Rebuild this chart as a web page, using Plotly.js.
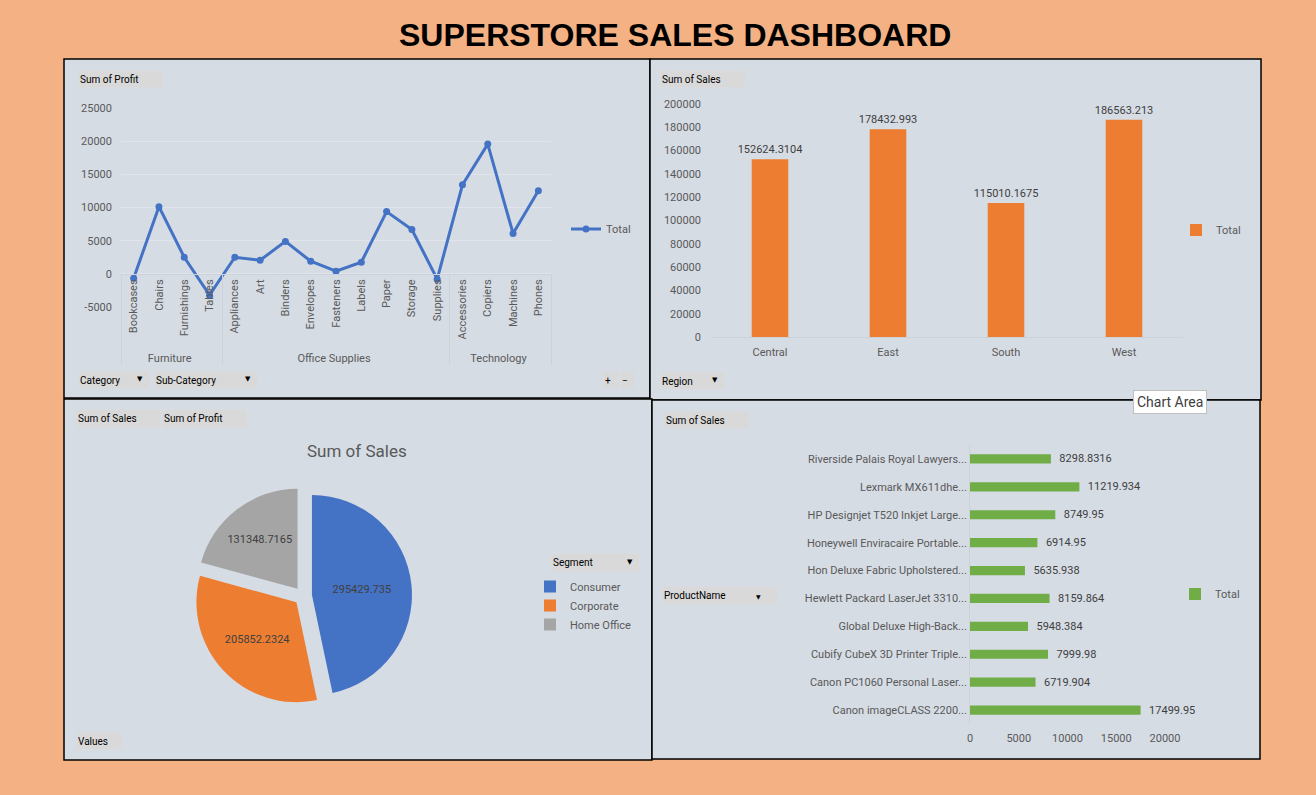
<!DOCTYPE html>
<html>
<head>
<meta charset="utf-8">
<script src="https://cdn.plot.ly/plotly-3.0.1.min.js"></script>
<style>
  body { margin: 0; background: #F4B183; }
  #dash { width: 1316px; height: 795px; }
</style>
</head>
<body>
<div id="dash"></div>
<script>
// profit by sub-category (line chart)
var categoryGroups = ['Furniture', 'Furniture', 'Furniture', 'Furniture',
  'Office Supplies', 'Office Supplies', 'Office Supplies', 'Office Supplies', 'Office Supplies',
  'Office Supplies', 'Office Supplies', 'Office Supplies', 'Office Supplies',
  'Technology', 'Technology', 'Technology', 'Technology'];
var subCategories = ['Bookcases', 'Chairs', 'Furnishings', 'Tables', 'Appliances', 'Art', 'Binders',
  'Envelopes', 'Fasteners', 'Labels', 'Paper', 'Storage', 'Supplies', 'Accessories', 'Copiers',
  'Machines', 'Phones'];
var profitBySub = [-650, 10130, 2500, -3190, 2500, 2050, 4890, 1900, 400, 1750, 9380, 6690, -800,
  13420, 19560, 6090, 12530];
var profitTicks = [-5000, 0, 5000, 10000, 15000, 20000, 25000];

// sales by region
var regions = ['Central', 'East', 'South', 'West'];
var regionSales = [152624.3104, 178432.993, 115010.1675, 186563.213];

// sales by segment
var segments = ['Consumer', 'Corporate', 'Home Office'];
var segmentSales = [295429.735, 205852.2324, 131348.7165];

// top products by sales
var products = ['Riverside Palais Royal Lawyers...', 'Lexmark MX611dhe...', 'HP Designjet T520 Inkjet Large...',
  'Honeywell Enviracaire Portable...', 'Hon Deluxe Fabric Upholstered...', 'Hewlett Packard LaserJet 3310...',
  'Global Deluxe High-Back...', 'Cubify CubeX 3D Printer Triple...', 'Canon PC1060 Personal Laser...',
  'Canon imageCLASS 2200...'];
var productSales = [8298.8316, 11219.934, 8749.95, 6914.95, 5635.938, 8159.864, 5948.384, 7999.98,
  6719.904, 17499.95];

var W = 1316, H = 795;
function px(x) { return x / W; }
function py(y) { return 1 - y / H; }

var FONT = 'Roboto, "Open Sans", sans-serif';
var tickFont = {family: FONT, size: 11, color: '#595959'};
var labelFont = {family: FONT, size: 11, color: '#404040'};
var panelBg = '#D6DCE4';
var faint = '#CDD2D9';

var lineTrace = {
  x: [categoryGroups, subCategories],
  y: profitBySub,
  type: 'scatter',
  mode: 'lines+markers',
  name: 'Total',
  line: {color: '#4472C4', width: 3},
  marker: {color: '#4472C4', size: 7},
  xaxis: 'x', yaxis: 'y',
  legend: 'legend',
  hoverinfo: 'none'
};

var regionTrace = {
  x: regions,
  y: regionSales,
  type: 'bar',
  name: 'Total',
  width: 0.31,
  marker: {color: '#ED7D31'},
  text: regionSales.map(String),
  textposition: 'outside',
  constraintext: 'none',
  textfont: labelFont,
  cliponaxis: false,
  xaxis: 'x2', yaxis: 'y2',
  legend: 'legend2',
  hoverinfo: 'none'
};

// pie geometry: centre (303,596), radius ~100, pull 0.09
var pull = 0.09;
var half = 100 * (1 + pull);
var segmentTrace = {
  type: 'pie',
  labels: segments,
  values: segmentSales,
  text: segmentSales.map(String),
  textinfo: 'text',
  textposition: 'inside',
  insidetextorientation: 'horizontal',
  textfont: labelFont,
  sort: false,
  direction: 'clockwise',
  rotation: 0,
  pull: pull,
  marker: {colors: ['#4472C4', '#ED7D31', '#A5A5A5']},
  domain: {x: [px(303 - half), px(303 + half)], y: [py(596 + half), py(596 - half)]},
  legend: 'legend3',
  hoverinfo: 'none'
};

var productTrace = {
  x: productSales,
  y: products,
  type: 'bar',
  orientation: 'h',
  name: 'Total',
  width: 0.33,
  marker: {color: '#70AD47'},
  text: productSales.map(function (v) { return '\u00a0\u00a0' + v; }),
  textposition: 'outside',
  constraintext: 'none',
  textfont: labelFont,
  cliponaxis: false,
  xaxis: 'x3', yaxis: 'y3',
  legend: 'legend4',
  hoverinfo: 'none'
};

// panels
var panels = [[64, 59, 650, 398], [650, 59, 1261, 400], [64, 399, 652, 760], [652, 400, 1260, 759]];
var shapes = panels.map(function (p) {
  return {type: 'rect', xref: 'paper', yref: 'paper', layer: 'below',
    x0: px(p[0]), x1: px(p[2]), y0: py(p[3]), y1: py(p[1]),
    fillcolor: panelBg, line: {color: '#000000', width: 1.5}};
});

function pathPx(pts) {
  return pts.map(function (p, i) {
    return (i ? 'L' : 'M') + px(p[0]).toFixed(5) + ',' + py(p[1]).toFixed(5);
  }).join(' ') + ' Z';
}
// filter funnel on the ProductName button
shapes.push({type: 'path', xref: 'paper', yref: 'paper',
  path: pathPx([[764, 588], [777, 588], [772, 594], [772, 601], [769, 601], [769, 594]]),
  fillcolor: '#595959', line: {width: 0}});

var annotations = [];
function note(x, y, text, font, extra) {
  var a = {xref: 'paper', yref: 'paper', x: px(x), y: py(y), xanchor: 'center', yanchor: 'middle',
    text: text, showarrow: false, font: font};
  for (var k in extra || {}) a[k] = extra[k];
  annotations.push(a);
}
function button(label, x0, y0, w, h, arrow) {
  note(x0, y0, label, {family: FONT, size: 10, color: '#000000'},
    {xanchor: 'left', yanchor: 'top', align: 'left', width: w - 4, height: h - 2, borderpad: 1,
      bgcolor: '#D9D9D9'});
  if (arrow) note(x0 + w - 10, y0 + h / 2, '▼', {family: 'DejaVu Sans', size: 7, color: '#000000'});
}

button('Sum of Profit', 78, 70, 85, 16);
button('Category', 78, 371, 72, 16, true);
button('Sub-Category', 154, 371, 104, 16, true);
button('+', 603, 371, 15, 16);
button('−', 620, 371, 15, 16);
button('Sum of Sales', 660, 70, 86, 16);
button('Region', 660, 372, 65, 16, true);
button('Sum of Sales', 76, 409, 85, 17);
button('Sum of Profit', 162, 409, 85, 17);
button('Values', 76, 732, 47, 16);
button('Segment', 551, 553, 89, 17, true);
button('Sum of Sales', 664, 411, 85, 16);
button('ProductName', 662, 586, 116, 17);
note(758, 596, '▼', {family: 'DejaVu Sans', size: 6, color: '#000000'});

note(675, 35, '<b>SUPERSTORE SALES DASHBOARD</b>',
  {family: '"Liberation Sans", Arial, sans-serif', size: 32, color: '#000000'});
note(357, 451, 'Sum of Sales', {family: FONT, size: 17, color: '#595959'});
note(1170, 402, 'Chart Area', {family: FONT, size: 14, color: '#404040'},
  {bgcolor: '#FFFFFF', bordercolor: '#BFBFBF', borderwidth: 1, borderpad: 3});

function legendAt(x, y, anchor) {
  return {x: px(x), y: py(y), xanchor: 'left', yanchor: anchor || 'middle', bgcolor: 'rgba(0,0,0,0)',
    borderwidth: 0, font: {family: FONT, size: 11, color: '#595959'}, itemwidth: 30, itemclick: false};
}

var layout = {
  width: W, height: H,
  autosize: false,
  margin: {l: 0, r: 0, t: 0, b: 0},
  paper_bgcolor: '#F4B183',
  plot_bgcolor: 'rgba(0,0,0,0)',
  font: tickFont,
  showlegend: true,
  hovermode: false,
  xaxis: {
    type: 'multicategory', domain: [px(121), px(551)], anchor: 'free', position: py(274),
    range: [-0.5, subCategories.length - 0.5],
    tickangle: -90, tickfont: tickFont, showline: true, linecolor: faint, ticks: '',
    showdividers: true, dividercolor: faint, dividerwidth: 1, showgrid: false, fixedrange: true
  },
  yaxis: {
    domain: [py(307), py(108)], anchor: 'x', range: [-5000, 25000],
    tickmode: 'array', tickvals: profitTicks, ticktext: profitTicks.map(String),
    tickfont: tickFont, showgrid: true, gridcolor: '#E1E5EB', zeroline: false, showline: false,
    ticklabelstandoff: 8, fixedrange: true
  },
  xaxis2: {
    domain: [px(711), px(1183)], anchor: 'y2', tickfont: tickFont, showline: true, linecolor: faint,
    ticks: '', ticklabelstandoff: 5, fixedrange: true
  },
  yaxis2: {
    domain: [py(337), py(104)], anchor: 'x2', range: [0, 200000], dtick: 20000, tickformat: 'd',
    tickfont: tickFont, showgrid: false, zeroline: false, ticklabelstandoff: 9, fixedrange: true
  },
  xaxis3: {
    domain: [px(970), px(1165)], anchor: 'y3', range: [0, 20000], dtick: 5000, tickformat: 'd',
    tickfont: tickFont, showgrid: false, zeroline: false, ticklabelstandoff: 6, fixedrange: true
  },
  yaxis3: {
    domain: [py(724), py(445)], anchor: 'x3', autorange: 'reversed', tickfont: tickFont,
    showline: true, linecolor: faint, ticks: '', fixedrange: true
  },
  legend: legendAt(566, 229),
  legend2: legendAt(1176, 230),
  legend3: legendAt(530, 572, 'top'),
  legend4: legendAt(1175, 594),
  shapes: shapes,
  annotations: annotations
};

Plotly.newPlot('dash', [lineTrace, regionTrace, segmentTrace, productTrace], layout,
  {displayModeBar: false, staticPlot: true});
</script>
</body>
</html>
